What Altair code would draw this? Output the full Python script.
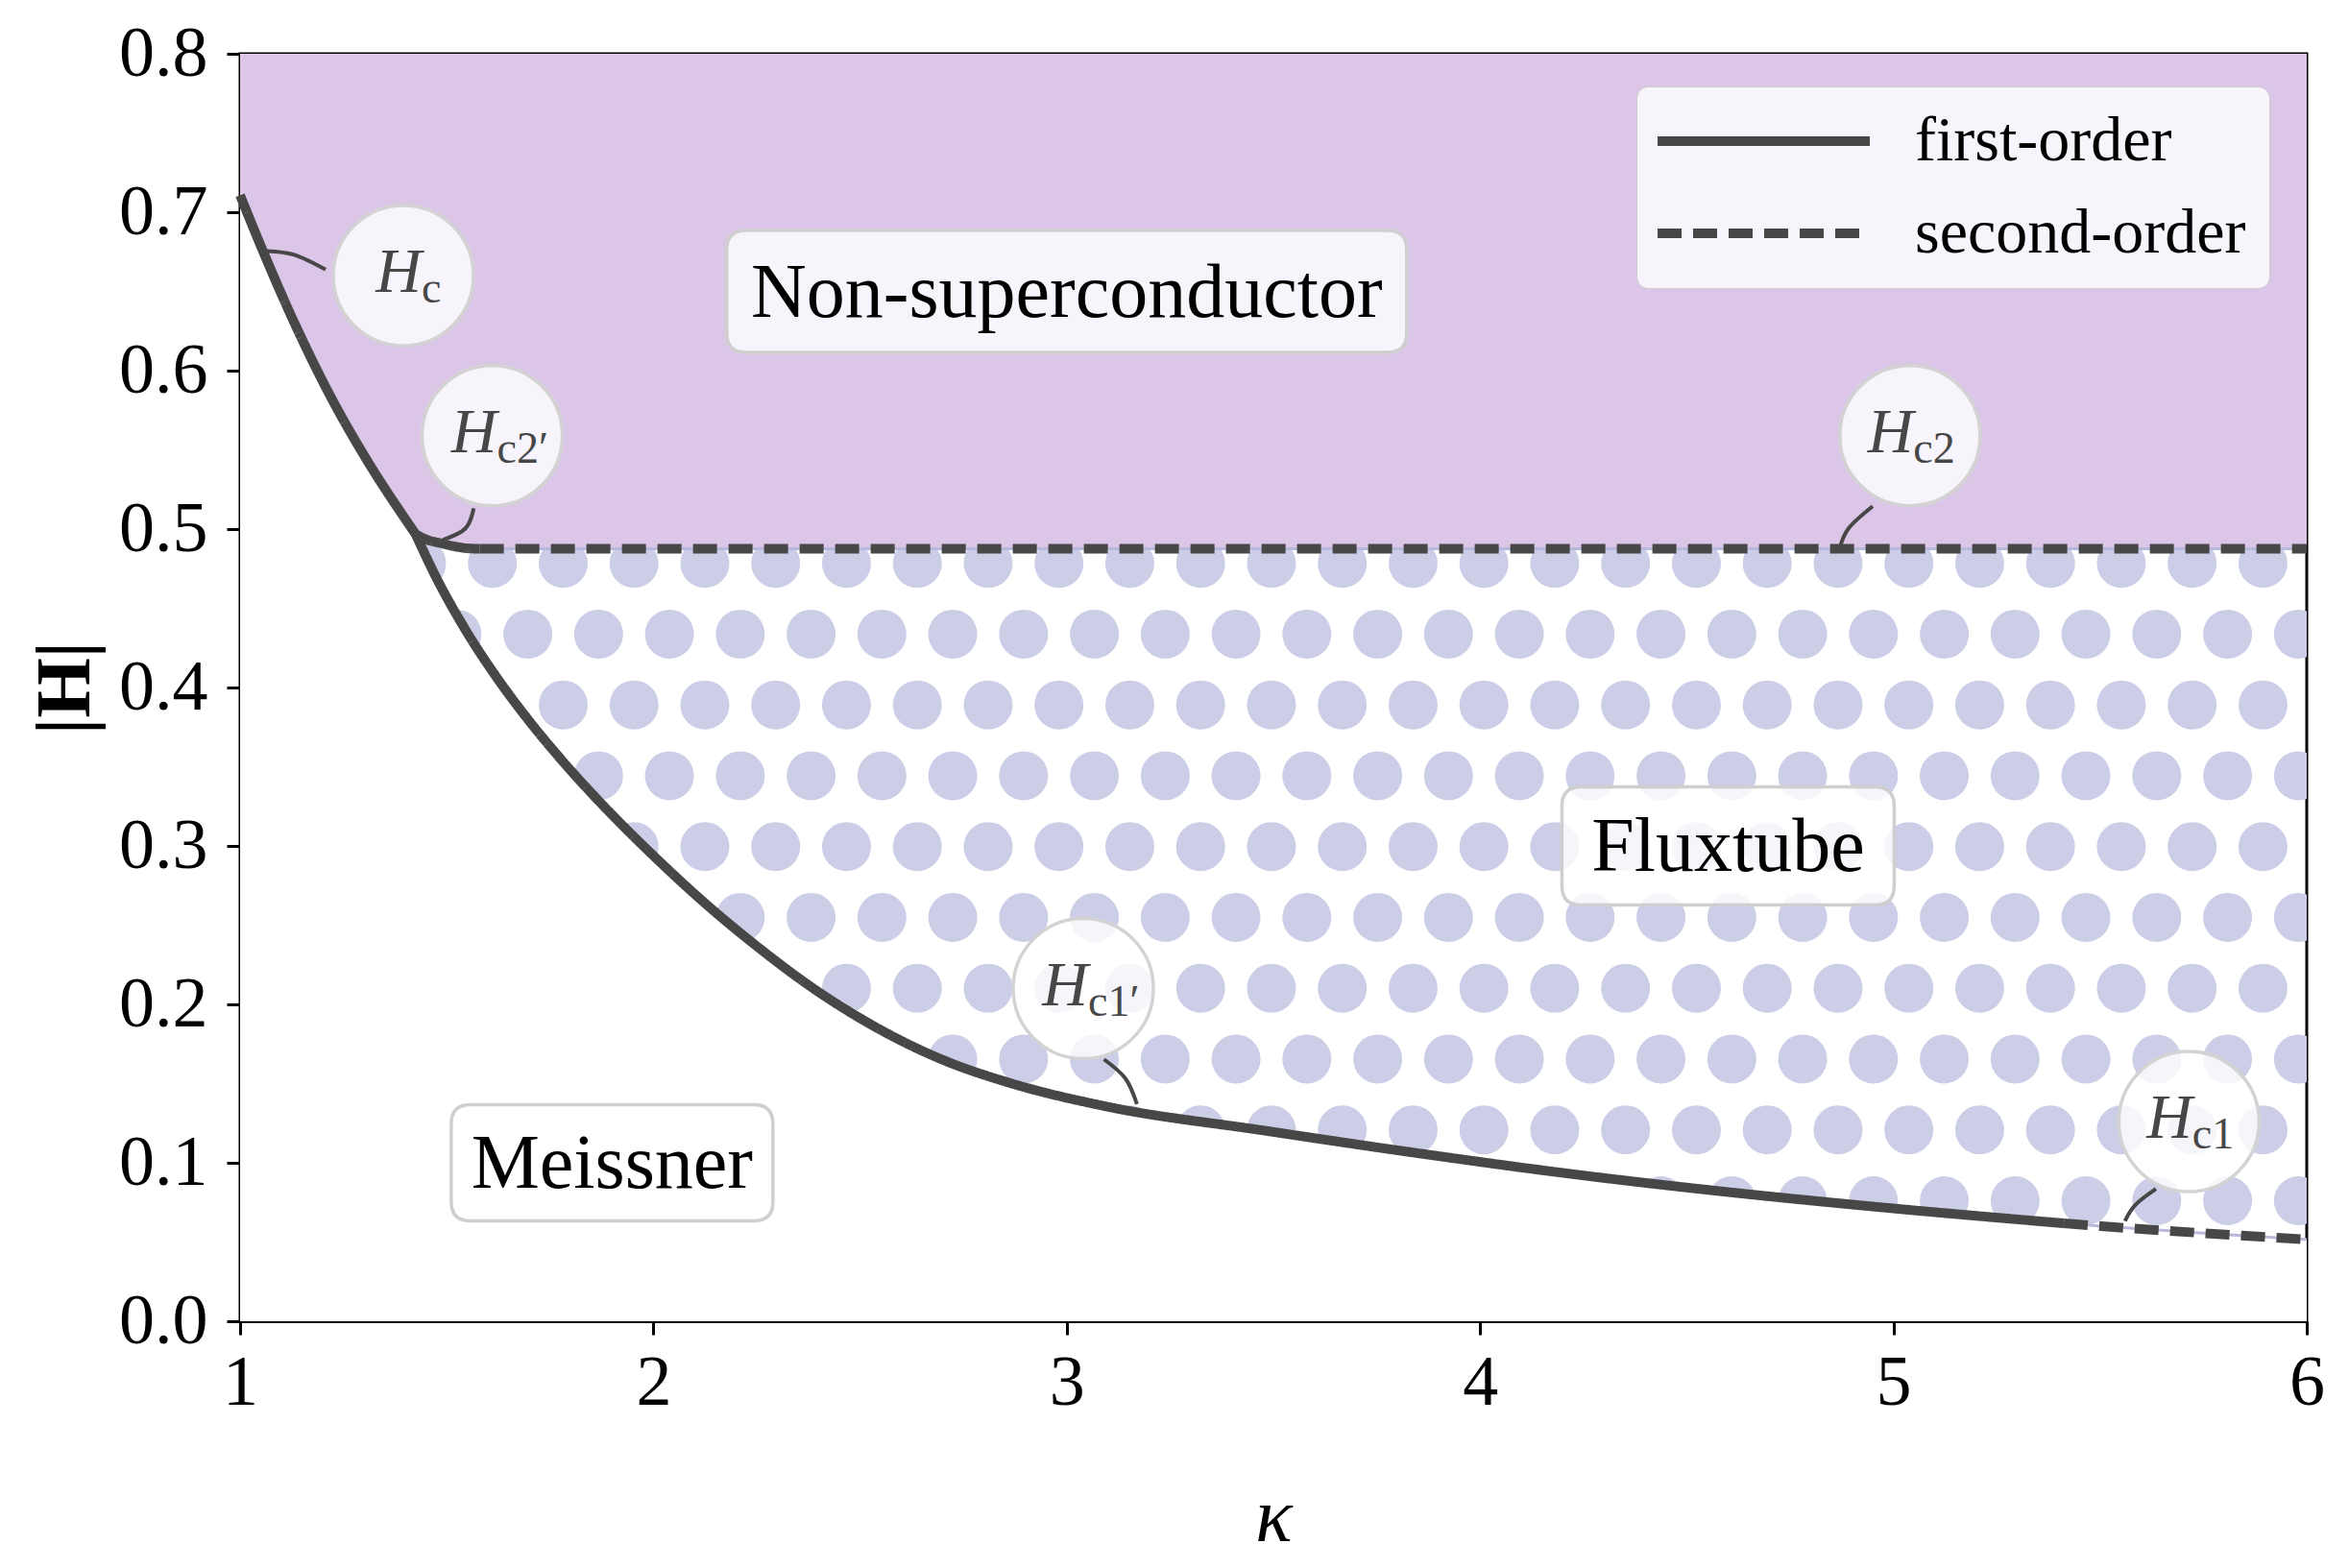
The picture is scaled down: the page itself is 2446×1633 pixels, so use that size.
import altair as alt
import pandas as pd

# ---------------- data ----------------
# H_c (first-order, kappa up to the junction at ~1.42)
kappa_hc = [1.000, 1.0425, 1.1313, 1.2203, 1.3090, 1.4000, 1.4247]
H_hc = [0.7107, 0.6835, 0.6302, 0.5830, 0.5426, 0.5062, 0.4968]
# H_c1' continuing into H_c1 (first-order, solid part)
kappa_hc1p = [1.4247, 1.4723, 1.5421, 1.6197, 1.6970, 1.7744, 1.8520, 1.9294, 2.0067,
              2.1229, 2.2391, 2.3941, 2.5490, 2.7038, 2.8587, 3.0911, 3.4763, 3.8618,
              4.2470, 4.6013, 4.9342, 5.4122]
H_hc1p = [0.4968, 0.4706, 0.4378, 0.4068, 0.3797, 0.3553, 0.3328, 0.3119, 0.2922,
          0.2643, 0.2390, 0.2088, 0.1840, 0.1646, 0.1507, 0.1358, 0.1204, 0.1056,
          0.0921, 0.0815, 0.0728, 0.0618]
# H_c2' (first-order, short piece)
kappa_hc2p = [1.4247, 1.45, 1.487, 1.52, 1.558, 1.58]
H_hc2p = [0.4968, 0.4935, 0.4910, 0.4890, 0.4877, 0.4876]
# H_c2 (second-order)
kappa_hc2 = [1.58, 6.0]
H_hc2 = [0.4876, 0.4876]
# H_c1 tail (second-order)
kappa_hc1 = [5.4122, 5.503, 5.75, 6.0]
H_hc1 = [0.0618, 0.0600, 0.0556, 0.0516]

x_ticks = [1, 2, 3, 4, 5, 6]
y_ticks = [0.0, 0.1, 0.2, 0.3, 0.4, 0.5, 0.6, 0.7, 0.8]

region_text = ["Non-superconductor", "Fluxtube", "Meissner"]
region_kappa = [3.0, 4.6, 1.9]
region_H = [0.65, 0.30, 0.10]
region_box_px = [(708, 127), (346, 123), (335, 121)]

bubble_sub = ["c", "c2\u2032", "c2", "c1\u2032", "c1"]
bubble_kappa = [1.395, 1.61, 5.04, 3.04, 5.715]
bubble_H = [0.660, 0.559, 0.559, 0.210, 0.126]
bubble_join_px = [19, 5, 3.5, 5, 3.5]

conn_kappa = [[1.0646, 1.1313, 1.2068], [1.4914, 1.5448, 1.5653], [4.870, 4.892, 4.9498],
              [3.0901, 3.1420, 3.1699], [5.5602, 5.5848, 5.6352]]
conn_H = [[0.6755, 0.6731, 0.6638], [0.4933, 0.5003, 0.5131], [0.4879, 0.5006, 0.5144],
          [0.1653, 0.1532, 0.1370], [0.0632, 0.0733, 0.0835]]

# dotted (flux tube lattice) texture parameters
DOT_K0, DOT_DK = 1.6104, 0.17135
DOT_H0, DOT_DH = 0.4784, 0.0447

# ---------------- styles ----------------
FONT = "Liberation Serif"
LINE = "#474747"
PURPLE = "#dcc6e8"
DOT = "#cccde6"
W, H = 2152, 1320

xscale = alt.Scale(domain=[1, 6], nice=False, zero=False)
yscale = alt.Scale(domain=[0, 0.8], nice=False, zero=False)
xaxis = alt.Axis(values=x_ticks, title="κ", format="d", grid=False, labelFlush=False,
                 tickSize=14, labelPadding=14, titlePadding=64, titleFontStyle="italic",
                 titleFontWeight="normal")
yaxis = alt.Axis(values=y_ticks, title="|H|", format=".1f", grid=False, labelFlush=False,
                 tickSize=14, labelPadding=20, titlePadding=14, titleFontWeight="bold")


def X(f="kappa"):
    return alt.X(f"{f}:Q", scale=xscale, axis=xaxis)


def Y(f="H"):
    return alt.Y(f"{f}:Q", scale=yscale, axis=yaxis)


def frame(parts, cols=("kappa", "H")):
    rows = []
    for seg, ks, hs, extra in parts:
        for k, h in zip(ks, hs):
            row = {cols[0]: k, cols[1]: h, "seg": seg}
            row.update(extra)
            rows.append(row)
    return pd.DataFrame(rows)


# ---------------- frames ----------------
dots = []
for r in range(12):
    off = 0.5 * DOT_DK if r % 2 else 0.0
    h = DOT_H0 - r * DOT_DH
    for c in range(-5, 30):
        k = DOT_K0 + off + c * DOT_DK
        if 0.85 <= k <= 6.2:
            dots.append({"kappa": k, "H": h})
dots = pd.DataFrame(dots)

# areas overlap slightly across the junction (one H_c point before it) to avoid a seam
white_df = frame([("a", kappa_hc, H_hc, {"lo": 0.0}),
                  ("b", kappa_hc[-2:-1] + kappa_hc1p + kappa_hc1[1:],
                   H_hc[-2:-1] + H_hc1p + H_hc1[1:], {"lo": 0.0})])
purple_df = frame([("a", kappa_hc, H_hc, {"hi": 0.8}),
                   ("b", kappa_hc[-2:-1] + kappa_hc2p + kappa_hc2[1:],
                    H_hc[-2:-1] + H_hc2p + H_hc2[1:], {"hi": 0.8})],
                  cols=("kappa", "lo"))
lines_df = frame([("hc", kappa_hc, H_hc, {"order": "first-order"}),
                  ("hc1p", kappa_hc1p, H_hc1p, {"order": "first-order"}),
                  ("hc2p", kappa_hc2p, H_hc2p, {"order": "first-order"}),
                  ("hc2", kappa_hc2, H_hc2, {"order": "second-order"}),
                  ("hc1", kappa_hc1, H_hc1, {"order": "second-order"})])
conn_df = frame([(i, ks, hs, {}) for i, (ks, hs) in enumerate(zip(conn_kappa, conn_H))])
bubble_df = pd.DataFrame({"kappa": bubble_kappa, "H": bubble_H, "sub": bubble_sub})

# ---------------- layers ----------------
layers = []
layers.append(alt.Chart(dots).mark_circle(size=2601, color=DOT, opacity=1, clip=True)
              .encode(x=X(), y=Y()))
layers.append(alt.Chart(white_df).mark_area(color="white", opacity=1, interpolate="monotone")
              .encode(x=X(), y=Y("H"), y2="lo:Q", detail="seg:N"))
layers.append(alt.Chart(purple_df).mark_area(color=PURPLE, opacity=1, interpolate="monotone")
              .encode(x=X(), y=Y("lo"), y2="hi:Q", detail="seg:N"))
layers.append(alt.Chart(lines_df[lines_df.seg.isin(["hc2p", "hc2", "hc1"])])
              .mark_line(color="#b9b8dd", strokeWidth=3, interpolate="monotone")
              .encode(x=X(), y=Y(), detail="seg:N"))
layers.append(alt.Chart(lines_df).mark_line(color=LINE, strokeWidth=10, interpolate="monotone")
              .encode(x=X(), y=Y(), detail="seg:N",
                      strokeDash=alt.StrokeDash(
                          "order:N",
                          scale=alt.Scale(domain=["first-order", "second-order"],
                                          range=[[1, 0], [25, 12]]),
                          legend=alt.Legend(
                              title=None, orient="none", legendX=1454, legendY=34,
                              symbolType="M-35,0H186", symbolSize=4, symbolStrokeWidth=10,
                              symbolStrokeColor=LINE, symbolOpacity=1,
                              labelFont=FONT, labelFontSize=66, labelColor="black",
                              labelOffset=200, labelLimit=0, padding=24, rowPadding=30,
                              fillColor="rgba(255,255,255,0.8)", strokeColor="#cccccc",
                              cornerRadius=12))))
layers.append(alt.Chart(conn_df).mark_line(color=LINE, strokeWidth=4, interpolate="natural")
              .encode(x=X(), y=Y(), detail="seg:N"))
layers.append(alt.Chart(bubble_df).mark_point(shape="circle", size=146 * 146, filled=True,
                                              fill="white", fillOpacity=0.8, stroke="#d3d3d3",
                                              strokeWidth=3.5, strokeOpacity=1, opacity=1)
              .encode(x=X(), y=Y()))
for i, sub in enumerate(bubble_sub):
    one = bubble_df.iloc[[i]]
    jx = bubble_join_px[i]
    layers.append(alt.Chart(one).mark_text(text="H", font=FONT, fontSize=66, fontStyle="italic",
                                           color=LINE, align="right", baseline="alphabetic",
                                           dx=jx, dy=17)
                  .encode(x=X(), y=Y()))
    layers.append(alt.Chart(one).mark_text(font=FONT, fontSize=46, color=LINE, align="left",
                                           baseline="alphabetic", dx=jx, dy=28)
                  .encode(x=X(), y=Y(), text="sub:N"))


def rrect(w, h, r):
    x0, x1, y0, y1 = -w / 2, w / 2, -h / 2, h / 2
    return (f"M{x0 + r},{y0}H{x1 - r}Q{x1},{y0} {x1},{y0 + r}V{y1 - r}Q{x1},{y1} {x1 - r},{y1}"
            f"H{x0 + r}Q{x0},{y1} {x0},{y1 - r}V{y0 + r}Q{x0},{y0} {x0 + r},{y0}Z")


for i, txt in enumerate(region_text):
    one = pd.DataFrame({"kappa": [region_kappa[i]], "H": [region_H[i]], "label": [txt]})
    bw, bh = region_box_px[i]
    layers.append(alt.Chart(one).mark_point(shape=rrect(bw, bh, 20), size=4, filled=True,
                                            fill="white", fillOpacity=0.8, stroke="#cfcfcf",
                                            strokeWidth=3.5, strokeOpacity=1, opacity=1)
                  .encode(x=X(), y=Y()))
    layers.append(alt.Chart(one).mark_text(font=FONT, fontSize=80, color="black", align="center",
                                           baseline="alphabetic", dy=26)
                  .encode(x=X(), y=Y(), text="label:N"))

chart = (alt.layer(*layers)
         .properties(width=W, height=H, autosize=alt.AutoSizeParams(type="none"),
                     padding={"left": 242, "top": 48, "right": 36, "bottom": 249},
                     background="white")
         .configure(font=FONT)
         .configure_view(stroke="black", strokeWidth=3)
         .configure_axis(labelFont=FONT, labelFontSize=74, labelColor="black",
                         titleFont=FONT, titleFontSize=80, titleColor="black",
                         domainColor="black", domainWidth=3, tickColor="black", tickWidth=3))

chart.save("out.html", embed_options={"renderer": "svg", "actions": False})
